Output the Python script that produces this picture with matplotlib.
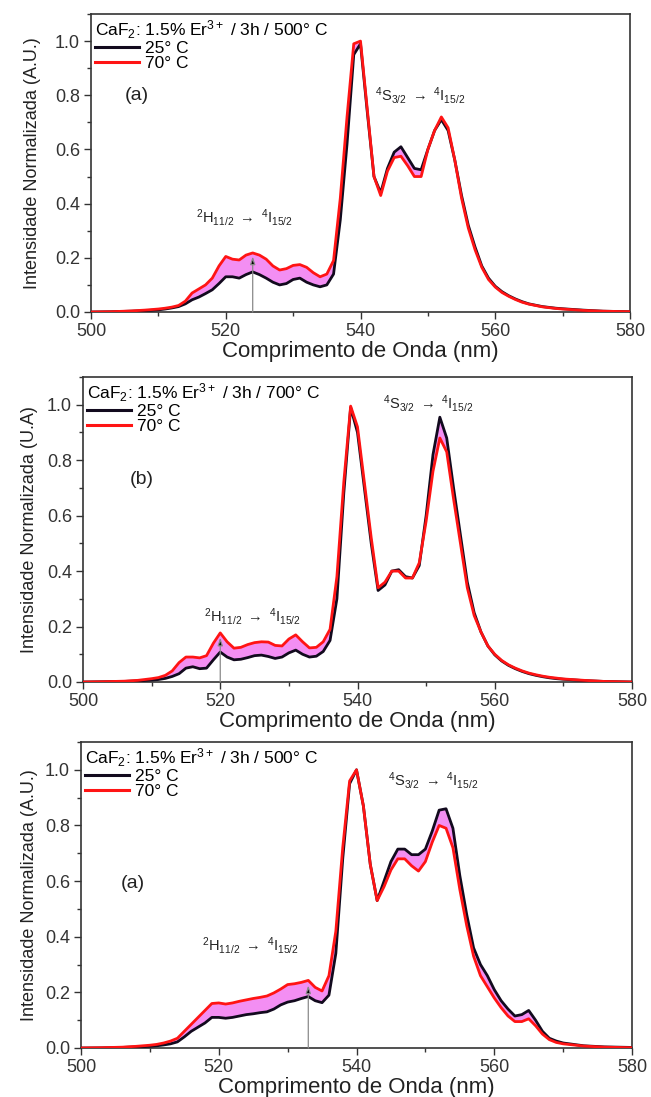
import matplotlib
matplotlib.use("Agg")
import matplotlib.pyplot as plt
from matplotlib.ticker import MultipleLocator

plt.rcParams['font.family'] = ['Liberation Sans', 'DejaVu Sans']
plt.rcParams['mathtext.fontset'] = 'custom'
plt.rcParams['mathtext.rm'] = 'Liberation Sans'
plt.rcParams['mathtext.it'] = 'Liberation Sans'

# wavelength grid (nm)
wl = [500, 503, 506, 508] + list(range(510, 571)) + [573, 576, 580]

# ---- panel (a) 500 C ----
a_25 = [0.0, 0.001, 0.003, 0.005,
        0.008, 0.011, 0.015, 0.02, 0.03, 0.045, 0.055, 0.068, 0.082, 0.105,
        0.13, 0.13, 0.125, 0.138, 0.148, 0.138, 0.125, 0.11, 0.10, 0.105,
        0.12, 0.125, 0.11, 0.10, 0.093, 0.10, 0.14, 0.34, 0.62, 0.95,
        0.99, 0.74, 0.50, 0.44, 0.53, 0.59, 0.61, 0.57, 0.53, 0.525,
        0.60, 0.67, 0.71, 0.67, 0.56, 0.43, 0.32, 0.24, 0.17, 0.125,
        0.095, 0.075, 0.06, 0.048, 0.038, 0.03, 0.025, 0.02, 0.017, 0.014,
        0.012, 0.007, 0.003, 0.001]
a_70 = [0.0, 0.001, 0.004, 0.007,
        0.011, 0.014, 0.018, 0.024, 0.04, 0.07, 0.085, 0.10, 0.125, 0.17,
        0.205, 0.195, 0.192, 0.21, 0.218, 0.21, 0.195, 0.17, 0.155, 0.16,
        0.172, 0.175, 0.165, 0.145, 0.13, 0.14, 0.19, 0.42, 0.72, 0.99,
        1.0, 0.75, 0.50, 0.43, 0.52, 0.57, 0.575, 0.54, 0.50, 0.50,
        0.60, 0.67, 0.72, 0.68, 0.56, 0.42, 0.31, 0.23, 0.165, 0.12,
        0.092, 0.072, 0.058, 0.046, 0.036, 0.029, 0.024, 0.019, 0.016, 0.013,
        0.011, 0.006, 0.003, 0.001]

# ---- panel (b) 700 C ----
b_25 = [0.0, 0.001, 0.002, 0.004,
        0.007, 0.009, 0.013, 0.02, 0.03, 0.05, 0.055, 0.048, 0.05, 0.08,
        0.108, 0.09, 0.08, 0.082, 0.088, 0.095, 0.097, 0.092, 0.085, 0.09,
        0.105, 0.115, 0.10, 0.09, 0.093, 0.11, 0.15, 0.30, 0.68, 0.99,
        0.90, 0.70, 0.50, 0.33, 0.35, 0.40, 0.405, 0.38, 0.375, 0.42,
        0.60, 0.82, 0.955, 0.88, 0.70, 0.53, 0.36, 0.25, 0.18, 0.13,
        0.098, 0.076, 0.06, 0.048, 0.038, 0.03, 0.024, 0.019, 0.015, 0.012,
        0.01, 0.005, 0.002, 0.0]
b_70 = [0.0, 0.001, 0.003, 0.006,
        0.012, 0.016, 0.024, 0.04, 0.07, 0.09, 0.09, 0.087, 0.095, 0.14,
        0.177, 0.145, 0.122, 0.125, 0.135, 0.142, 0.145, 0.144, 0.132, 0.13,
        0.155, 0.17, 0.145, 0.123, 0.125, 0.145, 0.19, 0.38, 0.72, 0.995,
        0.92, 0.72, 0.52, 0.34, 0.36, 0.40, 0.40, 0.375, 0.375, 0.43,
        0.58, 0.76, 0.88, 0.83, 0.66, 0.50, 0.34, 0.24, 0.18, 0.13,
        0.10, 0.078, 0.062, 0.05, 0.04, 0.032, 0.026, 0.021, 0.017, 0.014,
        0.011, 0.006, 0.002, 0.0]

# ---- panel (c) 500 C (second sample) ----
c_25 = [0.0, 0.0005, 0.002, 0.004,
        0.006, 0.008, 0.011, 0.015, 0.022, 0.04, 0.06, 0.075, 0.09, 0.11,
        0.11, 0.107, 0.11, 0.115, 0.12, 0.123, 0.127, 0.13, 0.14, 0.155,
        0.165, 0.17, 0.178, 0.185, 0.17, 0.163, 0.19, 0.34, 0.68, 0.95,
        1.0, 0.87, 0.66, 0.53, 0.60, 0.67, 0.715, 0.715, 0.695, 0.695,
        0.715, 0.78, 0.855, 0.86, 0.79, 0.62, 0.48, 0.36, 0.30, 0.26,
        0.21, 0.17, 0.14, 0.115, 0.12, 0.135, 0.10, 0.06, 0.035, 0.025,
        0.018, 0.008, 0.004, 0.002]
c_70 = [0.0, 0.001, 0.003, 0.006,
        0.01, 0.013, 0.018, 0.025, 0.035, 0.06, 0.085, 0.11, 0.135, 0.16,
        0.162, 0.158, 0.162, 0.168, 0.173, 0.178, 0.182, 0.187, 0.198, 0.212,
        0.228, 0.231, 0.236, 0.243, 0.218, 0.205, 0.26, 0.42, 0.72, 0.96,
        1.0, 0.87, 0.66, 0.53, 0.58, 0.64, 0.68, 0.68, 0.655, 0.636,
        0.67, 0.74, 0.80, 0.79, 0.72, 0.57, 0.44, 0.33, 0.26, 0.22,
        0.18, 0.145, 0.115, 0.095, 0.095, 0.105, 0.08, 0.05, 0.03, 0.02,
        0.015, 0.007, 0.003, 0.001]

titles = [r'CaF$_2$: 1.5% Er$^{3+}$ / 3h / 500° C',
          r'CaF$_2$: 1.5% Er$^{3+}$ / 3h / 700° C',
          r'CaF$_2$: 1.5% Er$^{3+}$ / 3h / 500° C']
ylabels = ['Intensidade Normalizada (A.U.)',
           'Intensidade Normalizada (U.A)',
           'Intensidade Normalizada (A.U.)']
letters = ['(a)', '(b)', '(a)']
letter_pos = [(505.0, 0.80), (506.8, 0.73), (505.7, 0.59)]
s_label_pos = [(542.2, 0.80), (543.7, 1.005), (544.6, 0.96)]
h_label_pos = [(515.6, 0.35), (517.6, 0.235), (517.5, 0.37)]
arrow_x = [524, 520, 533]
arrow_top = [0.205, 0.16, 0.225]
series = [(a_25, a_70), (b_25, b_70), (c_25, c_70)]

# axes rectangles in pixels: left, right, top, bottom
rects_px = [(91, 630, 14, 312), (83, 632, 377, 682), (81, 632, 742, 1048)]
ylabel_right_px = [41, 38, 38]
W, H = 651, 1097

fig = plt.figure(figsize=(W / 100, H / 100), dpi=100)
S_TXT = r'$\mathregular{^4S_{3/2}}$ $\rightarrow$ $\mathregular{^4I_{15/2}}$'
H_TXT = r'$\mathregular{^2H_{11/2}}$ $\rightarrow$ $\mathregular{^4I_{15/2}}$'

for i in range(3):
    l, r, t, b = rects_px[i]
    ax = fig.add_axes([l / W, 1 - b / H, (r - l) / W, (b - t) / H])
    y25, y70 = series[i]
    ax.fill_between(wl, y25, y70, color='#f27af2', alpha=0.85, lw=0, zorder=1)
    ax.plot(wl, y25, color='#120a1e', lw=2.0, label='25° C', zorder=3)
    ax.plot(wl, y70, color='#ff1414', lw=2.0, label='70° C', zorder=4)
    ax.set_xlim(500, 580)
    ax.set_ylim(0, 1.1)
    ax.xaxis.set_major_locator(MultipleLocator(20))
    ax.xaxis.set_minor_locator(MultipleLocator(10))
    ax.yaxis.set_major_locator(MultipleLocator(0.2))
    ax.yaxis.set_minor_locator(MultipleLocator(0.1))
    ax.yaxis.set_major_formatter(plt.FormatStrFormatter('%.1f'))
    ax.tick_params(which='major', direction='out', length=5, width=1.0,
                   labelsize=13, colors='#333333', pad=3)
    ax.tick_params(which='minor', direction='out', length=3, width=1.0,
                   colors='#333333')
    for sp in ax.spines.values():
        sp.set_linewidth(1.2)
        sp.set_color('#333333')
    ax.set_xlabel('Comprimento de Onda (nm)', fontsize=16, color='#222222',
                  labelpad=1)
    ax.set_ylabel(ylabels[i], fontsize=13, color='#222222')
    ax.yaxis.set_label_coords(-(l - ylabel_right_px[i]) / (r - l), 0.5)
    leg = ax.legend(loc='upper left', frameon=False, fontsize=12.5,
                    title=titles[i], title_fontsize=12.5, alignment='left',
                    handlelength=2.5, handletextpad=0.35, labelspacing=0.0,
                    borderaxespad=0.1, borderpad=0.15)
    for line in leg.get_lines():
        line.set_linewidth(2.2)
    ax.text(*letter_pos[i], letters[i], fontsize=14, color='#222222',
            ha='left', va='center')
    ax.text(*s_label_pos[i], S_TXT, fontsize=10.5, color='#222222',
            ha='left', va='center')
    ax.text(*h_label_pos[i], H_TXT, fontsize=10.5, color='#222222',
            ha='left', va='center')
    ax.annotate('', xy=(arrow_x[i], arrow_top[i]), xytext=(arrow_x[i], 0),
                arrowprops=dict(arrowstyle='-|>,head_length=0.45,head_width=0.15',
                                ec='#8a8a8a', fc='black', lw=0.9,
                                shrinkA=0, shrinkB=0), zorder=6)

fig.savefig('out.png', dpi=100)
